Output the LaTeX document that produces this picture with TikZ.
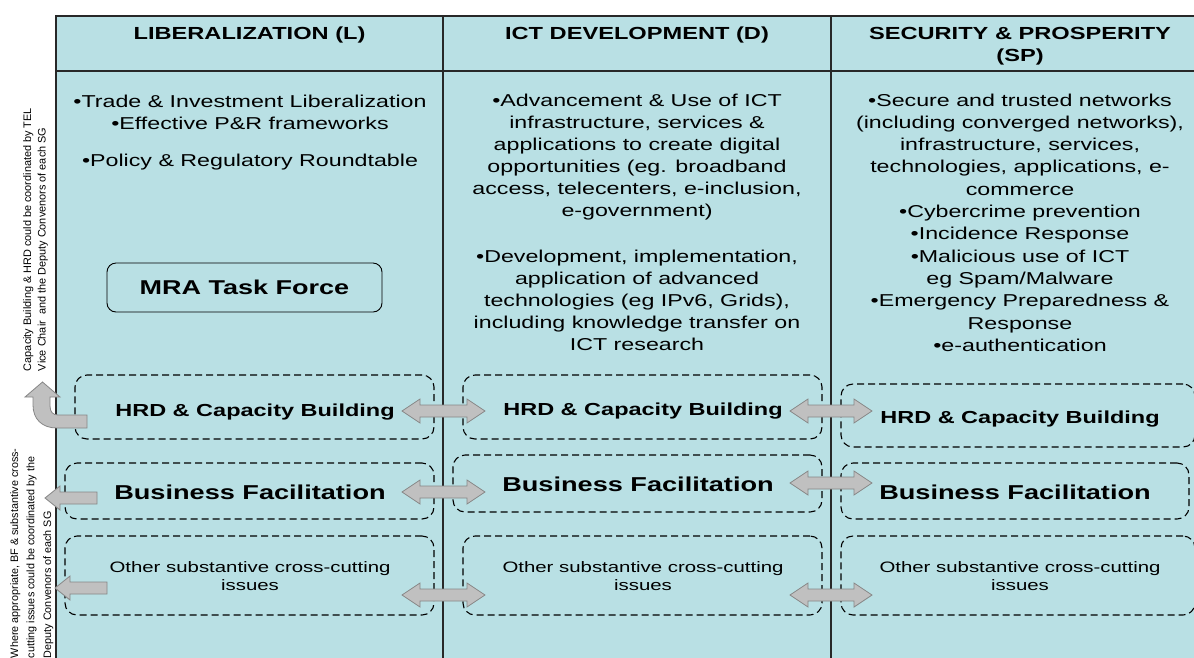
\documentclass[tikz,border=0pt]{standalone}
\usepackage{fontspec}
\setmainfont{Liberation Sans}
\newfontfamily\widefont{Liberation Sans}[FakeStretch=1.35]
\usetikzlibrary{calc}

\definecolor{panel}{RGB}{185,224,228}
\definecolor{arrowfill}{RGB}{192,192,192}
\definecolor{arrowline}{RGB}{135,135,135}
\definecolor{rulecol}{RGB}{40,40,40}

% centred / left-aligned line stacks, aligned on the first baseline
\newcommand\cstack[1]{\begin{tabular}[t]{@{}c@{}}#1\end{tabular}}
\newcommand\lstack[1]{\begin{tabular}[t]{@{}l@{}}#1\end{tabular}}

% block arrow with two heads: name, left x, right x, y
\newcommand\twoway[4]{%
  \coordinate (#1-w) at (#2,#4);
  \coordinate (#1-e) at (#3,#4);
  \filldraw[blockarrow] (#1-w) -- ++(18,-12) -- ++(0,6) -- ($(#1-e)+(-18,-6)$)
    -- ++(0,-6) -- (#1-e) -- ++(-18,12) -- ++(0,-6) -- ($(#1-w)+(18,6)$)
    -- ++(0,6) -- cycle;}
% block arrow pointing left: name, tip x, tail x, y, head length
\newcommand\oneway[5]{%
  \coordinate (#1-tip) at (#2,#4);
  \coordinate (#1-tail) at (#3,#4);
  \filldraw[blockarrow] (#1-tip) -- ++(#5,-12) -- ++(0,6) -- ($(#1-tail)+(0,-6)$)
    -- ($(#1-tail)+(0,6)$) -- ($(#1-tip)+(#5,6)$) -- ++(0,6) -- cycle;}

\begin{document}
\begin{tikzpicture}[x=1pt,y=-1pt,
  every node/.style={inner sep=0pt, outer sep=0pt},
  hdr/.style={anchor=base, font=\widefont\bfseries\fontsize{17.5}{22}\selectfont},
  bodytxt/.style={anchor=base, font=\widefont\fontsize{17.2}{22}\selectfont},
  bodytxtS/.style={anchor=base, font=\widefont\fontsize{17.2}{22.3}\selectfont},
  hrdtxt/.style={anchor=base, font=\widefont\bfseries\fontsize{17.4}{20}\selectfont},
  bftxt/.style={anchor=base, font=\widefont\bfseries\fontsize{20.1}{23}\selectfont},
  othtxt/.style={anchor=base, font=\widefont\fontsize{15.1}{18.5}\selectfont},
  sidetxt/.style={rotate=90, anchor=base west, font=\fontsize{10.9}{14.5}\selectfont},
  sidetxtB/.style={rotate=90, anchor=base west, font=\fontsize{10.8}{16.5}\selectfont},
  solidbox/.style={draw=black, line width=0.9pt, rounded corners=9pt},
  dbox/.style={draw=black, line width=1.1pt, dash pattern=on 7pt off 4pt, rounded corners=12pt},
  blockarrow/.style={fill=arrowfill, draw=arrowline, line width=0.8pt, line join=miter}
]
\useasboundingbox (0,0) rectangle (1194,657);
\fill[white] (0,0) rectangle (1194,657);

% table body and grid
\fill[panel] (56,16) rectangle (1230,680);
\draw[rulecol, line width=1.3pt] (1230,16) -- (56,16) -- (56,680);
\draw[rulecol, line width=1.3pt] (56,71) -- (1230,71);
\draw[rulecol, line width=1.3pt] (443,16) -- (443,680);
\draw[rulecol, line width=1.3pt] (831,16) -- (831,680);

% column headings
\node[hdr] (hL) at (249.5,39) {LIBERALIZATION (L)};
\node[hdr] (hD) at (637,39) {ICT DEVELOPMENT (D)};
\node[hdr] (hS) at (1020,39) {\cstack{SECURITY \& PROSPERITY\\(SP)}};

% column contents
\node[bodytxt] (bL) at (250,107) {\cstack{•Trade \& Investment Liberalization\\
  •Effective P\&R frameworks\\[15pt]
  •Policy \& Regulatory Roundtable}};
\node[bodytxt] (bD) at (637,106) {\cstack{•Advancement \& Use of ICT\\
  infrastructure, services \&\\
  applications to create digital\\
  opportunities (eg. broadband\\
  access, telecenters, e-inclusion,\\
  e-government)\\[24pt]
  •Development, implementation,\\
  application of advanced\\
  technologies (eg IPv6, Grids),\\
  including knowledge transfer on\\
  ICT research}};
\node[bodytxtS] (bS) at (1020,106) {\cstack{•Secure and trusted networks\\
  (including converged networks),\\
  infrastructure, services,\\
  technologies, applications, e-\\
  commerce\\
  •Cybercrime prevention\\
  •Incidence Response\\
  •Malicious use of ICT\\
  eg Spam/Malware\\
  •Emergency Preparedness \&\\
  Response\\
  •e-authentication}};

% task force
\node[solidbox, minimum width=275pt, minimum height=49pt,
  font=\widefont\bfseries\fontsize{20}{23}\selectfont] (mra) at (244.5,287.5) {MRA Task Force};

% dashed cross-cutting boxes
\node[dbox, minimum width=359pt, minimum height=64pt] (hrdL) at (254.5,407) {};
\node[dbox, minimum width=369pt, minimum height=56pt] (bfL)  at (249.5,491) {};
\node[dbox, minimum width=369pt, minimum height=79pt] (othL) at (249.5,575.5) {};
\node[dbox, minimum width=359pt, minimum height=64pt] (hrdD) at (642.5,407) {};
\node[dbox, minimum width=369pt, minimum height=57pt] (bfD)  at (637.5,483.5) {};
\node[dbox, minimum width=359pt, minimum height=79pt] (othD) at (642.5,575.5) {};
\node[dbox, minimum width=354pt, minimum height=63pt] (hrdS) at (1018,415.5) {};
\node[dbox, minimum width=348pt, minimum height=56pt] (bfS)  at (1015,491) {};
\node[dbox, minimum width=354pt, minimum height=79pt] (othS) at (1018,575.5) {};

\node[hrdtxt] (thrdL) at (255,416) {HRD \& Capacity Building};
\node[bftxt]  (tbfL)  at (250,499) {Business Facilitation};
\node[othtxt] (tothL) at (250,572) {\cstack{Other substantive cross-cutting\\issues}};
\node[hrdtxt] (thrdD) at (643,415) {HRD \& Capacity Building};
\node[bftxt]  (tbfD)  at (638,491) {Business Facilitation};
\node[othtxt] (tothD) at (643,572) {\cstack{Other substantive cross-cutting\\issues}};
\node[hrdtxt] (thrdS) at (1020,423) {HRD \& Capacity Building};
\node[bftxt]  (tbfS)  at (1015,499) {Business Facilitation};
\node[othtxt] (tothS) at (1020,572) {\cstack{Other substantive cross-cutting\\issues}};

% links between the working groups
\twoway{aHL}{402}{485}{411}
\twoway{aHS}{790}{872}{411}
\twoway{aBL}{402}{485}{492}
\twoway{aBS}{790}{872}{483}
\twoway{aOL}{402}{485}{595}
\twoway{aOS}{790}{872}{595}

% coordination arrows on the left margin
\filldraw[blockarrow] (87,428) -- (57,428) .. controls (42,428) and (33,419) .. (33,405)
  -- (33,397) -- (25,397) -- (42.5,382) -- (60,397) -- (50,397) -- (50,406)
  .. controls (50,412) and (53,415) .. (58,415) -- (87,415) -- cycle;
\oneway{lBF}{45}{97}{498}{15}
\oneway{lOth}{55}{107}{588}{15}

% margin notes
\node[sidetxt] (noteA) at (31,371) {\lstack{Capacity Building \& HRD could be coordinated by TEL\\
  Vice Chair\ \ and the Deputy Convenors of each SG}};
\node[sidetxtB] (noteB) at (18,658) {\lstack{Where appropriate, BF \& substantive cross-\\
  cutting issues could be coordinated by the\\
  Deputy Convenors of each SG}};
\end{tikzpicture}
\end{document}
